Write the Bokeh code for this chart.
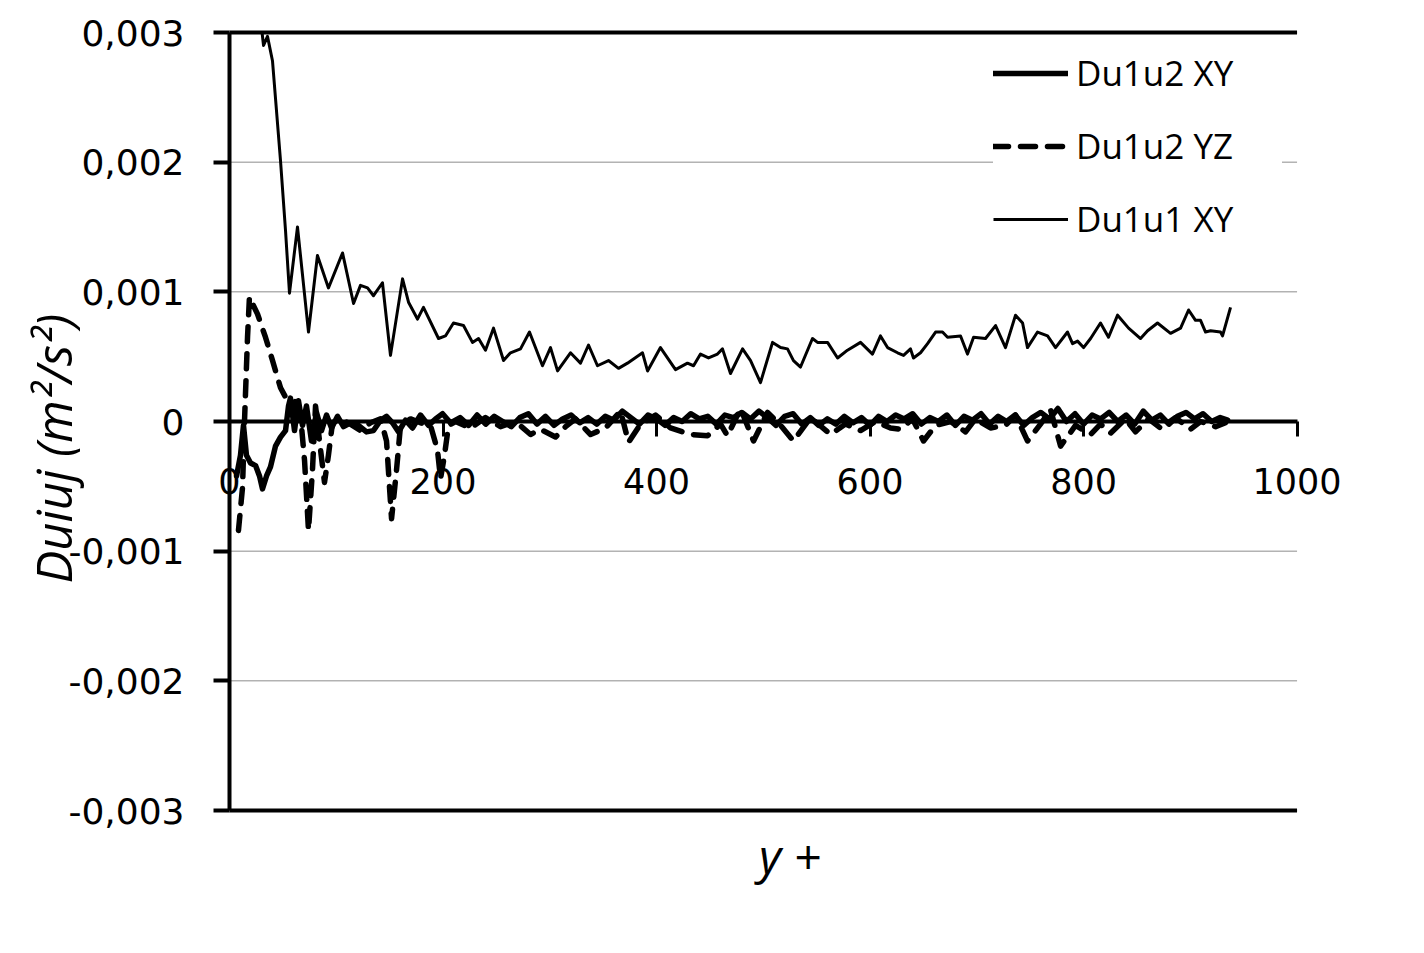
import math
from bokeh.plotting import figure
from bokeh.models import Range1d, FixedTicker, Label
from bokeh.embed import file_html
from bokeh.resources import INLINE

# ---------------- data ----------------
x_ticks = [0, 200, 400, 600, 800, 1000]
x_labels = ["0", "200", "400", "600", "800", "1000"]
y_ticks = [-0.003, -0.002, -0.001, 0, 0.001, 0.002, 0.003]
y_labels = ["-0,003", "-0,002", "-0,001", "0", "0,001", "0,002", "0,003"]

series_names = ["Du1u2 XY", "Du1u2 YZ", "Du1u1 XY"]
x_title = "y +"
y_title = "Duiuj (m²/s²)"

# Du1u2 XY (thick solid)
xy12_x = [6.6, 10.3, 13.1, 15.9, 19.7, 24.4, 28.1, 30.9, 34.7, 38.4, 43.1, 47.8, 52.5, 55.3, 57.1,
          60.9, 64.6, 68.4, 72.1, 76.8, 81.5, 86.2, 90.9, 95.6, 101.2, 106.8, 113.3, 120.8, 128.3,
          134.9, 141.5, 147.1, 152.7, 158.4, 164.9, 171.4, 178.9, 186.4, 193.0, 199.6, 207.0,
          216, 224, 232, 240, 248, 256, 264, 272, 280, 288, 296, 304, 312, 320, 328, 336, 344, 352,
          360, 368, 376, 384, 392, 400, 408, 416, 424, 432, 440, 448, 456, 464, 472, 480, 488, 496,
          504, 512, 520, 528, 536, 544, 552, 560, 568, 576, 584, 592, 600, 608, 616, 624, 632, 640,
          648, 656, 664, 672, 680, 688, 696, 704, 712, 720, 728, 736, 744, 752, 760, 768, 776, 784,
          792, 800, 808, 816, 824, 832, 840, 848, 856, 864, 872, 880, 888, 896, 904, 912, 920, 928, 935]
xy12_y = [-0.00042, -0.00026, -0.00003, -0.00026, -0.00032, -0.00034, -0.00042, -0.00052, -0.00042,
          -0.00035, -0.00019, -0.00012, -0.00007, 0.00012, 0.00018, -0.00007, 0.00016, -0.00003,
          0.00012, -0.00015, 0.00007, -0.00007, 0.00005, -0.00005, 0.00004, -0.00004, -0.00001,
          -0.00003, -0.00008, -0.00007, 0.00001, 0.00004, -0.00001, -0.00008, 0.00001, -0.00005,
          0.00005, -0.00003, 0.00002, 0.00006, -0.00001,
          0.00003, -0.00003, 0.00005, -0.00002, 0.00004, 0.0, -0.00004, 0.00003, 0.00006, -0.00002,
          0.00004, -0.00003, 0.00002, 0.00005, -0.00001, 0.00003, -0.00002, 0.00004, 0.00001, 0.00008,
          0.00003, -0.00002, 0.00005, 0.00002, -0.00003, 0.00003, 0.0, 0.00006, 0.00002, 0.00004,
          -0.00002, 0.00005, 0.00003, 0.00007, 0.00002, 0.00008, 0.00003, -0.00003, 0.00004, 0.00006,
          -0.00002, 0.00003, -0.00003, 0.00002, -0.00002, 0.00004, -0.00001, 0.00003, -0.00003,
          0.00004, 0.0, 0.00005, 0.00002, 0.00006, -0.00002, 0.00003, 0.0, 0.00005, -0.00003,
          0.00004, 0.00001, 0.00006, -0.00002, 0.00004, 0.0, 0.00005, -0.00003, 0.00003, 0.00007,
          0.00002, 0.0001, 0.0, 0.00006, -0.00002, 0.00005, 0.00002, 0.00007, 0.0, 0.00005,
          -0.00002, 0.00008, 0.00001, 0.00005, -0.00002, 0.00004, 0.00007, 0.00002, 0.00006, 0.0,
          0.00003, 0.00001]

# Du1u2 YZ (thick dashed)
yz12_x = [8.4, 12.2, 14.1, 16.9, 18.7, 21.5, 26.2, 33.7, 40.3, 47.8, 54.3, 59.0, 62.8, 66.5, 70.3,
          74.0, 77.7, 80.6, 84.3, 89.0, 92.7, 96.5, 104.0, 113.3, 122.7, 132.1, 141.5, 147.1, 151.8,
          156.4, 160.2, 169.6, 178.9, 188.3, 194.8, 197.7, 201.4, 205.2,
          211.7, 225.8, 239.8, 253.9, 267.9, 282.0, 291.3, 305.4, 314.8, 324.1, 338.2, 352.2, 366.3,
          373.8, 385.0, 399.1, 413.1, 431.9, 447.8, 460.0, 466.5, 478.7, 490.9, 504.0, 516.2, 528.3,
          544.3, 563.0, 577.0, 591.1, 605.2, 619.2, 628.6, 639.8, 650.1, 661.4, 675.4, 689.5, 698.8,
          712.9, 726.9, 736.3, 747.5, 759.7, 769.1, 778.5, 792.5, 806.6, 815.9, 825.3, 839.3, 848.7,
          860.9, 872.1, 886.2, 900.2, 909.6, 923.7, 933.0]
yz12_y = [-0.00084, -0.00051, 0.00001, 0.00065, 0.00096, 0.00091, 0.00083, 0.00065, 0.00047, 0.00026,
          0.00016, 0.00008, 0.00019, 0.00005, -0.0003, -0.00084, -0.00038, 0.00012, -0.00015,
          -0.00047, -0.00026, -0.00001, 0.00002, -0.00002, -0.00007, -0.00001, 0.00002, -0.00015,
          -0.00075, -0.00038, -0.00003, 0.00002, -0.00001, -0.00003, -0.00022, -0.00044, -0.00026,
          -0.00003,
          0.0, -0.00005, 0.00003, -0.00004, 0.0, -0.0001, -0.00006, -0.00012, -0.00004, 0.00002,
          -0.0001, -0.00005, 0.00008, -0.00016, -0.00002, 0.00005, -0.00005, -0.0001, -0.00011,
          -0.00002, -0.00011, 0.0001, -0.00015, 0.00007, -0.00003, -0.00015, 0.00003, -0.0001,
          -0.00002, -0.00007, 0.0, -0.00005, -0.00006, 0.00002, -0.00015, -0.00003, 0.0, -0.00008,
          0.00002, -0.00005, -0.00003, 0.00005, -0.00015, -0.00002, 0.00009, -0.00019, -0.00003,
          -0.0001, -0.00002, -0.00009, 0.00002, -0.00008, 0.00002, -0.00005, 0.00003, -0.00006, 0.0,
          -0.00004, -0.00001]

# Du1u1 XY (thin solid)
xy11_x = [30.5, 31.9, 35.6, 40.3, 47.8, 52.5, 56.2, 63.7, 74.0, 82.4,
          92.7, 105.9, 116.2, 122.7, 129.3, 134.9, 143.3, 150.8, 162.1, 167.7,
          176.1, 181.7, 195.8, 202.3, 209.8, 219.2, 227.6, 233.3, 239.8, 247.3,
          256.7, 263.2, 272.6, 281.0, 293.2, 300.7, 307.3, 319.4, 328.8, 336.3,
          344.7, 355.0, 364.4, 372.8, 386.9, 391.6, 403.7, 417.8, 429.0, 434.7,
          441.2, 448.7, 457.1, 461.8, 469.3, 480.6, 488.1, 497.4, 508.7, 516.2,
          522.7, 528.3, 534.9, 546.1, 550.8, 560.2, 569.6, 578.9, 591.1, 602.3,
          609.8, 616.4, 625.8, 631.4, 637.9, 640.7, 647.3, 653.9, 661.4, 667.9,
          672.6, 684.8, 691.3, 697.0, 708.2, 717.6, 726.9, 736.3, 742.9, 747.5,
          756.9, 766.3, 773.8, 785.0, 789.7, 794.4, 800.0, 806.6, 815.9, 823.4,
          831.9, 842.2, 853.4, 860.0, 869.3, 881.5, 890.9, 898.4, 904.9, 909.6,
          914.3, 919.0, 928.3, 930.2, 937.7]
xy11_y = [0.003, 0.0029, 0.00297, 0.00278, 0.00201, 0.00147, 0.00099, 0.0015, 0.00069, 0.00128,
          0.00103, 0.0013, 0.00091, 0.00105, 0.00103, 0.00097, 0.00107, 0.00051, 0.0011, 0.00092,
          0.00079, 0.00088, 0.00064, 0.00066, 0.00076, 0.00074, 0.00061, 0.00064, 0.00055, 0.00072,
          0.00047, 0.00053, 0.00056, 0.00069, 0.00043, 0.00057, 0.00039, 0.00053, 0.00045, 0.00059,
          0.00043, 0.00047, 0.00041, 0.00045, 0.00053, 0.00039, 0.00057, 0.0004, 0.00045, 0.00043,
          0.00052, 0.00049, 0.00052, 0.00056, 0.00037, 0.00056, 0.00047, 0.0003, 0.00061, 0.00057,
          0.00056, 0.00047, 0.00042, 0.00064, 0.00061, 0.00061, 0.00049, 0.00055, 0.00061, 0.00052,
          0.00066, 0.00057, 0.00053, 0.00051, 0.00056, 0.00049, 0.00053, 0.0006, 0.00069, 0.00069,
          0.00065, 0.00066, 0.00052, 0.00065, 0.00064, 0.00074, 0.00057, 0.00082, 0.00076, 0.00057,
          0.00069, 0.00066, 0.00057, 0.00069, 0.0006, 0.00062, 0.00057, 0.00064, 0.00076, 0.00065,
          0.00082, 0.00072, 0.00064, 0.0007, 0.00076, 0.00068, 0.00072, 0.00086, 0.00078, 0.00078,
          0.00069, 0.0007, 0.00069, 0.00066, 0.00088]

# ---------------- figure ----------------
# The frame covers the whole canvas; both axes are pinned at 0 and bounded,
# so that tick labels and titles are drawn inside the frame.
W, H = 1408, 937
p = figure(width=W, height=H, output_backend="svg", toolbar_location=None,
           x_range=Range1d(-214.5, 1104.4), y_range=Range1d(-0.0039794, 0.0032468),
           min_border_left=0, min_border_right=0, min_border_top=0, min_border_bottom=0)
p.title.visible = False
p.outline_line_color = None
p.background_fill_color = "white"
p.border_fill_color = "white"
p.xgrid.visible = False
p.ygrid.visible = False

tick_font = "DejaVu Sans"
x_lo, x_hi = x_ticks[0], x_ticks[-1]
y_lo, y_hi = y_ticks[0], y_ticks[-1]

# horizontal gridlines across the plot area
p.segment(x0=[x_lo] * len(y_ticks), x1=[x_hi] * len(y_ticks), y0=y_ticks, y1=y_ticks,
          line_color="#8c8c8c", line_width=1, level="underlay")

# y axis pinned at x = 0
ya = p.yaxis[0]
ya.fixed_location = 0
ya.bounds = (y_lo, y_hi)
ya.ticker = FixedTicker(ticks=y_ticks)
ya.major_label_overrides = dict(zip(y_ticks, y_labels))
ya.axis_line_width = 4
ya.axis_line_color = "black"
ya.major_tick_line_width = 4
ya.major_tick_line_color = "black"
ya.major_tick_out = 16
ya.major_tick_in = 0
ya.minor_tick_line_color = None
ya.major_label_text_font = tick_font
ya.major_label_text_font_size = "36px"
ya.major_label_text_color = "black"
ya.major_label_standoff = 29

# x axis pinned at y = 0
xa = p.xaxis[0]
xa.fixed_location = 0
xa.bounds = (x_lo, x_hi)
xa.ticker = FixedTicker(ticks=x_ticks)
xa.major_label_overrides = dict(zip(x_ticks, x_labels))
xa.axis_line_width = 4
xa.axis_line_color = "black"
xa.major_tick_line_width = 3
xa.major_tick_line_color = "black"
xa.major_tick_out = 15
xa.major_tick_in = 0
xa.minor_tick_line_color = None
xa.major_label_text_font = tick_font
xa.major_label_text_font_size = "35px"
xa.major_label_text_color = "black"
xa.major_label_standoff = 31
xa.level = "underlay"

# series
p.line(xy12_x, xy12_y, line_width=5.5, line_color="black", line_join="round",
       line_cap="round", legend_label=series_names[0])
p.line(yz12_x, yz12_y, line_width=5.5, line_color="black", line_join="round",
       line_cap="round", line_dash="15 12", legend_label=series_names[1])
p.line(xy11_x, xy11_y, line_width=3, line_color="black", line_join="round",
       legend_label=series_names[2])

lg = p.legend[0]
lg.location = (993, 695)
lg.border_line_color = None
lg.background_fill_color = "white"
lg.background_fill_alpha = 1.0
lg.padding = 50
lg.spacing = 26
lg.glyph_width = 75
lg.glyph_height = 42
lg.label_height = 42
lg.label_width = 206
lg.label_standoff = 8
lg.label_text_font = "Open Sans"
lg.label_text_font_size = "35px"
lg.label_text_color = "black"

# thick top / bottom lines of the plot area
p.segment(x0=[x_lo, x_lo], x1=[x_hi, x_hi], y0=[y_lo, y_hi], y1=[y_lo, y_hi],
          line_color="black", line_width=4, level="overlay")

# axis titles
p.add_layout(Label(x=-165, y=-0.00021, text=y_title,
                   angle=math.pi / 2, text_font="Open Sans", text_font_style="italic",
                   text_font_size="49px", text_align="center", text_baseline="middle",
                   text_color="black"))
p.add_layout(Label(x=525, y=-0.00335, text=x_title,
                   text_font="Open Sans", text_font_style="italic",
                   text_font_size="48px", text_align="center", text_baseline="middle",
                   text_color="black"))

open("out.html", "w").write(file_html(p, INLINE))
